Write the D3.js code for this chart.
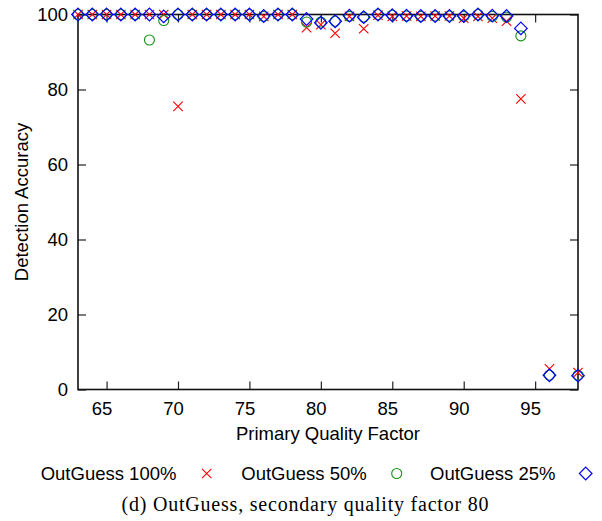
<!DOCTYPE html>
<html>
<head>
<meta charset="utf-8">
<script src="https://cdn.jsdelivr.net/npm/d3@7"></script>
<style>
  body { margin: 0; background: #fff; }
  svg { display: block; }
  text { font-family: "Liberation Sans", Arial, sans-serif; }
</style>
</head>
<body>
<div id="chart"></div>
<script>
// primary quality factors tested
const qualityFactors = [63, 64, 65, 66, 67, 68, 69, 70, 71, 72, 73, 74, 75, 76, 77, 78,
  79, 80, 81, 82, 83, 84, 85, 86, 87, 88, 89, 90, 91, 92, 93, 94, 96, 98];

const outguess100 = [100, 100, 100, 100, 100, 100, 100, 75.5, 100, 100, 100, 100, 100, 99.5, 100, 100,
  96.5, 97.3, 95.0, 99.5, 96.2, 99.8, 99.5, 99.6, 99.5, 99.6, 99.6, 99.0, 99.5, 99.0, 98.2, 77.5, 5.5, 4.5];

const outguess50 = [100, 100, 100, 100, 100, 93.2, 98.4, 100, 100, 100, 100, 100, 100, 99.5, 100, 100,
  98.0, 98.0, 98.2, 99.5, 99.3, 100, 99.8, 99.6, 99.5, 99.6, 99.6, 99.5, 100, 99.5, 99.3, 94.3, 3.8, 3.8];

const outguess25 = [100, 100, 100, 100, 100, 100, 99.5, 100, 100, 100, 100, 100, 100, 99.6, 100, 100,
  98.8, 97.8, 98.2, 99.7, 99.3, 100, 99.8, 99.7, 99.6, 99.6, 99.6, 99.6, 100, 99.7, 99.6, 96.3, 3.8, 3.7];

const seriesNames = ['OutGuess 100%', 'OutGuess 50%', 'OutGuess 25%'];
const xTicks = [65, 70, 75, 80, 85, 90, 95];
const yTicks = [0, 20, 40, 60, 80, 100];

const width = 602;
const height = 521;
const plot = { left: 78, right: 578, top: 14.5, bottom: 389.5 };
const fontSize = 18.5;

const svg = d3.select('#chart')
  .append('svg')
    .attr('width', width)
    .attr('height', height);

const x = d3.scaleLinear().domain([63, 98]).range([plot.left, plot.right]);
const y = d3.scaleLinear().domain([0, 100]).range([plot.bottom, plot.top]);

// axes, gnuplot style: inward ticks, mirrored on top/right
const bottom = svg.append('g')
  .attr('transform', `translate(0,${plot.bottom})`)
  .call(d3.axisBottom(x).tickValues(xTicks).tickSizeInner(-8).tickSizeOuter(0).tickPadding(12));
bottom.selectAll('text').attr('dx', -5);

const left = svg.append('g')
  .attr('transform', `translate(${plot.left},0)`)
  .call(d3.axisLeft(y).tickValues(yTicks).tickSizeInner(-8).tickSizeOuter(0).tickPadding(10));

svg.append('g')
  .attr('transform', `translate(0,${plot.top})`)
  .call(d3.axisTop(x).tickValues(xTicks).tickSizeInner(-8).tickSizeOuter(0).tickFormat(''));

svg.append('g')
  .attr('transform', `translate(${plot.right},0)`)
  .call(d3.axisRight(y).tickValues(yTicks).tickSizeInner(-8).tickSizeOuter(0).tickFormat(''));

svg.selectAll('.domain').remove();
svg.selectAll('.tick line').attr('stroke', '#222').attr('stroke-width', 1.2);
svg.selectAll('.tick text')
  .attr('fill', '#000')
  .style('font-size', fontSize + 'px')
  .style('font-family', '"Liberation Sans", Arial, sans-serif');

svg.append('rect')
  .attr('x', plot.left)
  .attr('y', plot.top)
  .attr('width', plot.right - plot.left)
  .attr('height', plot.bottom - plot.top)
  .attr('fill', 'none')
  .attr('stroke', '#111')
  .attr('stroke-width', 1.6);

// axis titles
svg.append('text')
  .attr('x', 328)
  .attr('y', 440)
  .attr('text-anchor', 'middle')
  .style('font-size', fontSize + 'px')
  .text('Primary Quality Factor');

svg.append('text')
  .attr('transform', 'translate(28,202) rotate(-90)')
  .attr('text-anchor', 'middle')
  .style('font-size', fontSize + 'px')
  .text('Detection Accuracy');

// marker drawers
const markers = [
  (g, cx, cy) => {
    const s = 4.7;
    g.append('path')
      .attr('d', `M${cx - s},${cy - s}L${cx + s},${cy + s}M${cx - s},${cy + s}L${cx + s},${cy - s}`)
      .attr('stroke', '#ff0000').attr('stroke-width', 1.1).attr('fill', 'none');
  },
  (g, cx, cy) => {
    g.append('circle')
      .attr('cx', cx).attr('cy', cy).attr('r', 5)
      .attr('stroke', '#159015').attr('stroke-width', 1.1).attr('fill', 'none');
  },
  (g, cx, cy) => {
    const s = 6.3;
    g.append('path')
      .attr('d', `M${cx},${cy - s}L${cx + s},${cy}L${cx},${cy + s}L${cx - s},${cy}Z`)
      .attr('stroke', '#0000ff').attr('stroke-width', 1.2).attr('fill', 'none');
  }
];

const series = [outguess100, outguess50, outguess25];
const points = svg.append('g');
series.forEach((vals, i) => {
  const g = points.append('g');
  vals.forEach((v, j) => markers[i](g, x(qualityFactors[j]), y(v)));
});

// legend: label followed by sample
const legendY = 480;
const legendText = [40.7, 241.3, 430];
const legendMark = [206.7, 396.7, 585.7];
seriesNames.forEach((name, i) => {
  svg.append('text')
    .attr('x', legendText[i])
    .attr('y', legendY)
    .style('font-size', fontSize + 'px')
    .text(name);
  markers[i](svg.append('g'), legendMark[i], legendY - 6.5);
});

// caption
svg.append('text')
  .attr('x', 305)
  .attr('y', 511)
  .attr('text-anchor', 'middle')
  .attr('textLength', 367)
  .attr('lengthAdjust', 'spacing')
  .style('font-family', '"Liberation Serif", "Times New Roman", serif')
  .style('font-size', '20px')
  .text('(d) OutGuess, secondary quality factor 80');
</script>
</body>
</html>
